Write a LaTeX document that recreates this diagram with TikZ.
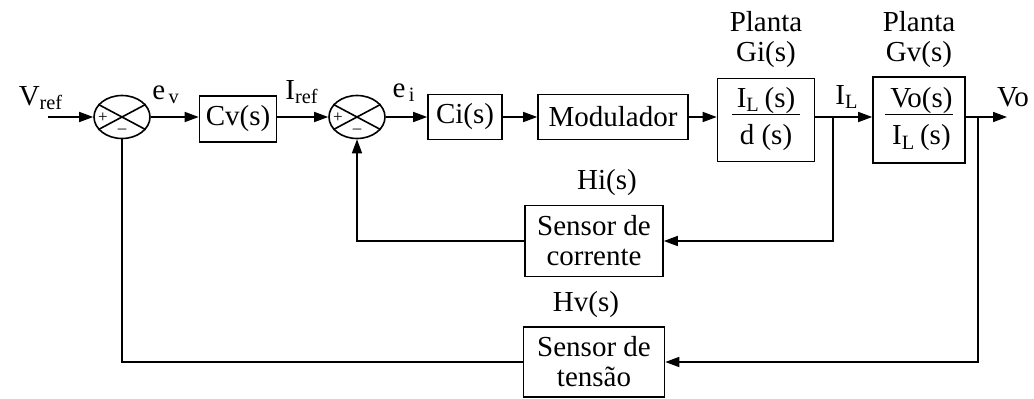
\documentclass[tikz,border=0pt]{standalone}
\usepackage{fontspec}
\setmainfont{Liberation Serif}
\usetikzlibrary{arrows.meta, shapes.geometric, positioning}

\tikzset{
    blk/.style={draw, line width=0.8pt, inner sep=0pt, align=center,
                font=\fontsize{14.5}{15}\selectfont},
    summer/.style={draw, ellipse, line width=0.8pt, inner sep=0pt,
                   minimum width=28pt, minimum height=21.5pt},
    lbl/.style={font=\fontsize{14.5}{15}\selectfont, inner sep=0pt},
    sgn/.style={font=\fontsize{8.5}{8.5}\selectfont, inner sep=0pt},
    arr/.style={line width=0.8pt, -{Triangle[length=7pt,width=5pt]}},
    wire/.style={line width=0.8pt}
}

\begin{document}
\begin{tikzpicture}[x=0.5pt, y=-0.5pt]
\useasboundingbox (0,0) rectangle (1034,398);

% summing junctions
\node[summer] (s1) at (122,117) {};
\node[summer] (s2) at (357,117) {};
\foreach \s in {s1, s2}{
    \draw[wire] (\s.152) -- (\s.-28);
    \draw[wire] (\s.28) -- (\s.208);
}
\node[sgn] (p1) at (103,118) {+};
\node[sgn] (m1) at (122,131) {--};
\node[sgn] (p2) at (338,118) {+};
\node[sgn] (m2) at (357,131) {--};

% forward path blocks
\node[blk, minimum width=38.5pt, minimum height=23pt] (cv) at (238,119) {Cv(s)};
\node[blk, minimum width=37pt, minimum height=22.5pt] (ci) at (465,117) {Ci(s)};
\node[blk, minimum width=75pt, minimum height=22.5pt] (mod) at (613,117) {Modulador};
\node[blk, minimum width=48.5pt, minimum height=41.5pt] (gi) at (766,120)
    {\begin{tabular}{@{\,}c@{\,}}I\textsubscript{L}\,(s)\\[-1pt]\hline\rule{0pt}{15pt}d (s)\end{tabular}};
\node[blk, minimum width=46pt, minimum height=43pt] (gv) at (919,120)
    {\begin{tabular}{@{\,}c@{}}Vo(s)\\[-1pt]\hline\rule{0pt}{15pt}I\textsubscript{L}\,(s)\end{tabular}};

% feedback blocks
\node[blk, minimum width=69pt, minimum height=35.5pt] (hi) at (594,241) {Sensor de\\corrente};
\node[blk, minimum width=70.5pt, minimum height=35pt] (hv) at (594,362) {Sensor de\\tensão};

% labels
\node[lbl] (lvref) at (41,98) {V\textsubscript{ref}};
\node[lbl] (lev) at (166,95) {e\textsubscript{\,v}};
\node[lbl] (liref) at (302,92) {I\textsubscript{ref}};
\node[lbl] (lei) at (404,93) {e\textsubscript{\,i}};
\node[lbl] (lil) at (847,97) {I\textsubscript{L}};
\node[lbl] (lvo) at (1013,97) {Vo};
\node[lbl] (pgi) at (766,22) {Planta};
\node[lbl] (ngi) at (766,55) {Gi(s)};
\node[lbl] (pgv) at (919,22) {Planta};
\node[lbl] (ngv) at (919,55) {Gv(s)};
\node[lbl] (lhi) at (607,183) {Hi(s)};
\node[lbl] (lhv) at (586,305) {Hv(s)};

% connection points
\coordinate (vin) at (48,117);
\coordinate (bi) at (833,117);
\coordinate (bv) at (978,117);
\coordinate (vout) at (1007,117);

% forward path
\draw[arr] (vin) -- (s1.west);
\draw[arr] (s1.east) -- (s1.east -| cv.west);
\draw[arr] (s1.east -| cv.east) -- (s2.west);
\draw[arr] (s2.east) -- (ci.west);
\draw[arr] (ci.east) -- (mod.west);
\draw[arr] (mod.east) -- (mod.east -| gi.west);
\draw[arr] (bi -| gi.east) -- (bi -| gv.west);
\draw[arr] (bv -| gv.east) -- (vout);

% feedback paths
\draw[arr] (bi) |- (hi.east);
\draw[arr] (hi.west) -| (s2.south);
\draw[arr] (bv) |- (hv.east);
\draw[wire] (hv.west) -| (s1.south);
\end{tikzpicture}
\end{document}
